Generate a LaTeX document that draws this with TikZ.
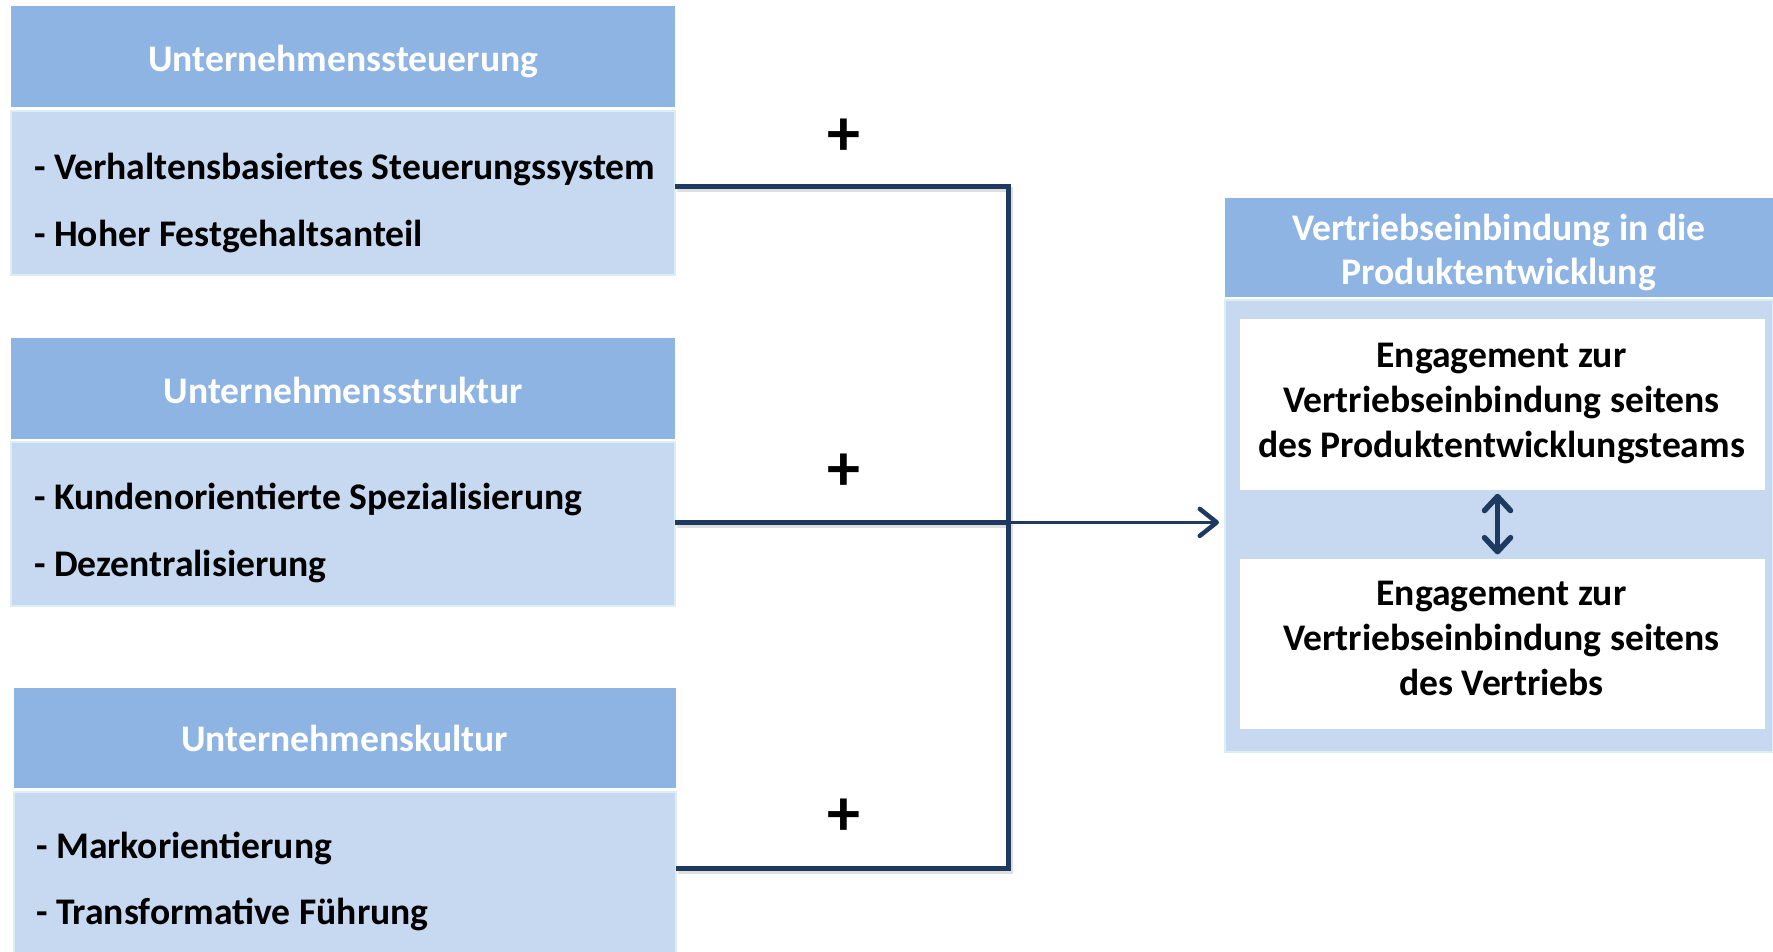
\documentclass[tikz,border=0pt]{standalone}
\usepackage{fontspec}
\setmainfont{Carlito}
\usetikzlibrary{arrows.meta}
\definecolor{hdr}{HTML}{8EB4E3}
\definecolor{bdy}{HTML}{C6D9F1}
\definecolor{bdr}{HTML}{DAEEF3}
\definecolor{navy}{HTML}{1F3A60}
\begin{document}
\begin{tikzpicture}[x=1pt,y=-1pt,
  hdrbox/.style={fill=hdr, draw=none, inner sep=0pt},
  hdrtext/.style={text=white, font=\fontsize{37.6}{44}\selectfont\bfseries, align=center, inner sep=0pt},
  bdybox/.style={fill=bdy, draw=bdr, line width=2pt, inner sep=0pt},
  wbox/.style={fill=white, draw=none, inner sep=0pt},
  wtext/.style={text=black, font=\fontsize{37.6}{45}\selectfont\bfseries, align=center, inner sep=0pt},
  item/.style={anchor=west, inner sep=0pt, font=\fontsize{37.6}{45}\selectfont\bfseries},
  plus/.style={inner sep=0pt, font=\fontsize{66}{66}\selectfont\bfseries},
  conn/.style={draw=navy, line width=5.5pt},
  shadow/.style={draw=black!25, line width=5pt, opacity=0.5},
  tipa/.style={-{Straight Barb[length=17pt,width=27pt,line width=4.5pt,round]}},
  tipb/.style={{Straight Barb[length=14pt,width=26pt,line width=5.5pt,round]}-{Straight Barb[length=14pt,width=26pt,line width=5.5pt,round]}}
]
\clip (0,0) rectangle (1773,952);
\fill[white] (0,0) rectangle (1773,952);

% left column
\node[hdrbox, minimum width=663.7pt, minimum height=101.7pt] (h1) at (343.2,56.5) {};
\node[hdrtext] (h1t) at ([yshift=-4.5pt]h1.center) {Unternehmenssteuerung};
\node[bdybox, minimum width=663.7pt, minimum height=164pt] (b1) at (343.2,192.8) {};
\node[item] (l1a) at (34,169.4) {- Verhaltensbasiertes Steuerungssystem};
\node[item] (l1b) at (34,236.4) {- Hoher Festgehaltsanteil};

\node[hdrbox, minimum width=663.7pt, minimum height=100.7pt] (h2) at (343.2,388.4) {};
\node[hdrtext] (h2t) at ([yshift=-2pt]h2.center) {Unternehmensstruktur};
\node[bdybox, minimum width=663.7pt, minimum height=164pt] (b2) at (343.2,524) {};
\node[item] (l2a) at (34,499.4) {- Kundenorientierte Spezialisierung};
\node[item] (l2b) at (34,566.4) {- Dezentralisierung};

\node[hdrbox, minimum width=662.4pt, minimum height=100.5pt] (h3) at (344.8,737.8) {};
\node[hdrtext] (h3t) at ([yshift=-1pt]h3.center) {Unternehmenskultur};
\node[bdybox, minimum width=662.4pt, minimum height=168.5pt] (b3) at (344.8,875.8) {};
\node[item] (l3a) at (36,848.4) {- Markorientierung};
\node[item] (l3b) at (36,914.4) {- Transformative Führung};

% right block
\node[hdrbox, minimum width=548.4pt, minimum height=99.5pt] (rh) at (1498.8,247.6) {};
\node[hdrtext] (rht) at ([yshift=-4.5pt]rh.center) {Vertriebseinbindung in die\\Produktentwicklung};
\node[bdybox, minimum width=548.4pt, minimum height=452.4pt] (rb) at (1498.8,525.8) {};
\node[wbox, minimum width=525pt, minimum height=170.6pt] (w1) at (1502.5,404.3) {};
\node[wtext] (w1t) at ([xshift=-1pt,yshift=1.2pt]w1.center) {Engagement zur\\Vertriebseinbindung seitens\\des Produktentwicklungsteams};
\node[wbox, minimum width=525pt, minimum height=170.4pt] (w2) at (1502.5,643.8) {};
\node[wtext] (w2t) at ([xshift=-1pt,yshift=5pt]w2.center) {Engagement zur\\Vertriebseinbindung seitens\\des Vertriebs};

% plus signs
\node[plus] (p1) at (844,137.5) {+};
\node[plus] (p2) at (844,472) {+};
\node[plus] (p3) at (844,817) {+};

% junction coordinates
\coordinate (s1) at (675,186.6);
\coordinate (j1) at (1008.6,186.6);
\coordinate (s3) at (676,868.4);
\coordinate (j3) at (1008.6,868.4);
\coordinate (s2) at (675,522.4);
\coordinate (t2) at (1219,522.4);

% shadows
\draw[shadow] ([shift={(2,3)}]s1) -- ([shift={(2,3)}]j1) -- ([shift={(2,3)}]j3) -- ([shift={(2,3)}]s3);
\draw[shadow] ([shift={(2,3)}]s2) -- ([shift={(2,3)}]j1 |- s2);

% connectors
\draw[conn] (s1) -- (j1) -- (j3) -- (s3);
\draw[conn] (s2) -- (j1 |- s2);
\draw[conn, line width=3.8pt, tipa] (j1 |- s2) -- (t2);

% double arrow
\draw[draw=navy, line width=5.5pt, tipb] ([xshift=-5pt,yshift=-4pt]w1.south) -- ([xshift=-5pt,yshift=4pt]w2.north);
\end{tikzpicture}
\end{document}
